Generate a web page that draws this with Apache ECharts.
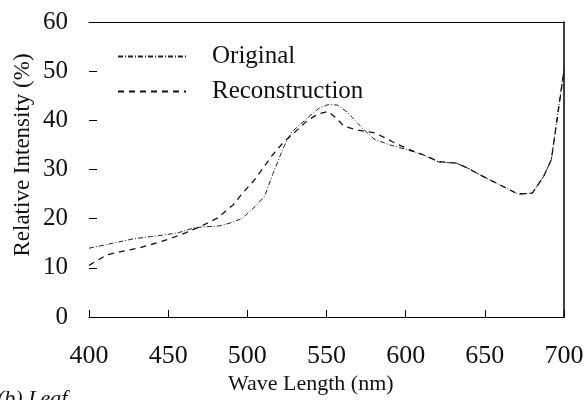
<!DOCTYPE html>
<html>
<head>
<meta charset="utf-8">
<script src="https://cdn.jsdelivr.net/npm/echarts@6/dist/echarts.min.js"></script>
<style>html,body{margin:0;padding:0;background:#fff}#c{width:588px;height:400px}</style>
</head>
<body>
<div id="c"></div>
<script>
// Data
var xTicks = [400, 450, 500, 550, 600, 650, 700];
var yTicks = [0, 10, 20, 30, 40, 50, 60];
var origWave = [400, 415, 428, 443, 456, 466, 471, 482, 489, 497, 505, 511, 516, 523, 528, 538, 545, 551, 557, 563, 572, 580, 590, 601, 611, 621, 632, 639, 647, 660, 671, 680, 687, 692, 700];
var origVal  = [14.0, 15.0, 15.9, 16.5, 17.1, 18.1, 18.3, 18.5, 19.1, 20.1, 22.5, 24.6, 29.0, 34.6, 37.6, 40.5, 42.4, 43.2, 43.1, 41.7, 38.6, 36.2, 35.0, 34.0, 33.0, 31.5, 31.3, 30.3, 28.9, 26.8, 25.0, 25.2, 28.5, 32.0, 50.5];
var recWave = [400, 411, 420, 431, 442, 451, 461, 471, 481, 491, 497, 504, 510, 516, 523, 530, 538, 545, 551, 556, 561, 570, 581, 592, 601, 611, 621, 632, 639, 647, 660, 671, 680, 687, 692, 700];
var recVal  = [10.5, 12.6, 13.3, 14.0, 15.0, 15.9, 17.1, 18.5, 20.1, 22.8, 25.2, 27.7, 30.3, 33.0, 35.6, 37.6, 40.0, 41.3, 41.8, 40.5, 38.8, 38.0, 37.4, 35.6, 34.2, 33.0, 31.6, 31.3, 30.3, 28.9, 26.8, 25.0, 25.2, 28.5, 32.0, 50.0];
var seriesNames = ['Original', 'Reconstruction'];

function pairs(xs, ys) { return xs.map(function (x, i) { return [x, ys[i]]; }); }

var FONT = '"Liberation Serif", "DejaVu Serif", serif';
var chart = echarts.init(document.getElementById('c'), null, {renderer: 'canvas'});
chart.setOption({
  animation: false,
  backgroundColor: '#ffffff',
  color: ['#222', '#111'],
  grid: {left: 89, right: 24, top: 22, bottom: 83, containLabel: false},
  legend: {
    left: 112, top: 38, orient: 'vertical',
    itemWidth: 68, itemHeight: 14, itemGap: 8,
    data: seriesNames,
    itemStyle: {opacity: 0},
    textStyle: {fontFamily: FONT, fontSize: 25, color: '#111', padding: [0, 0, 0, 21], lineHeight: 27}
  },
  xAxis: [{
    type: 'value', min: 400, max: 700, interval: 50, position: 'bottom',
    axisLine: {show: true, onZero: false, lineStyle: {color: '#000', width: 1.2}},
    axisTick: {show: true, inside: true, length: 7, lineStyle: {color: '#000'}},
    axisLabel: {fontFamily: FONT, fontSize: 26, color: '#111', margin: 26,
      formatter: function (v) { return xTicks.indexOf(v) >= 0 ? String(v) : ''; }},
    splitLine: {show: false}
  }, {
    type: 'value', min: 400, max: 700, position: 'top',
    axisLine: {show: true, onZero: false, lineStyle: {color: '#000', width: 1.2}},
    axisTick: {show: false}, axisLabel: {show: false}, splitLine: {show: false}
  }],
  yAxis: [{
    type: 'value', min: 0, max: 60, interval: 10, position: 'left',
    axisLine: {show: false, onZero: false},
    axisTick: {show: true, inside: true, length: 8, lineStyle: {color: '#000'}},
    axisLabel: {fontFamily: FONT, fontSize: 25, color: '#111', margin: 21,
      formatter: function (v) { return yTicks.indexOf(v) >= 0 ? String(v) : ''; }},
    splitLine: {show: false}
  }, {
    type: 'value', min: 0, max: 60, position: 'right',
    axisLine: {show: true, onZero: false, lineStyle: {color: '#000', width: 1.5}},
    axisTick: {show: false}, axisLabel: {show: false}, splitLine: {show: false}
  }],
  series: [{
    name: seriesNames[0], type: 'line', xAxisIndex: 0, yAxisIndex: 0,
    data: pairs(origWave, origVal), symbol: 'none', smooth: false,
    itemStyle: {color: '#222'},
    lineStyle: {color: '#222', width: 1, type: [5, 2, 1, 2]}
  }, {
    name: seriesNames[1], type: 'line', xAxisIndex: 0, yAxisIndex: 0,
    data: pairs(recWave, recVal), symbol: 'none', smooth: false,
    itemStyle: {color: '#111'},
    lineStyle: {color: '#111', width: 1.3, type: [6, 5]}
  }],
  graphic: [{
    type: 'text', left: 228, top: 373,
    style: {text: 'Wave Length (nm)', font: '22px ' + FONT, fill: '#111'}
  }, {
    type: 'text', x: 23, y: 155, rotation: Math.PI / 2, originX: 0, originY: 0,
    style: {text: 'Relative Intensity (%)', font: '23px ' + FONT, fill: '#111', textAlign: 'center', textVerticalAlign: 'middle'}
  }, {
    type: 'text', left: -3, top: 388,
    style: {text: '(b) Leaf', font: 'italic 22px ' + FONT, fill: '#111'}
  }]
});
</script>
</body>
</html>
